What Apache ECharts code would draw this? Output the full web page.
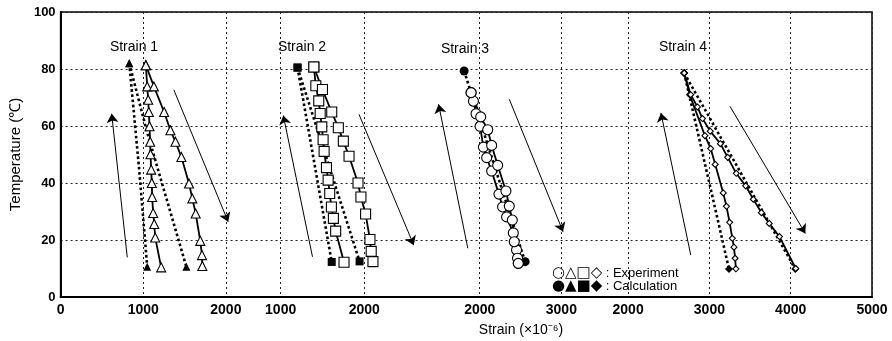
<!DOCTYPE html>
<html>
<head>
<meta charset="utf-8">
<title>Strain vs Temperature</title>
<script src="https://cdn.jsdelivr.net/npm/echarts@6.0.0/dist/echarts.min.js"></script>
<style>
    html, body {margin: 0; padding: 0; background: #fff;}
    #main {width: 892px; height: 341px;}
</style>
</head>
<body>
<div id="main"></div>
<script>
// tick labels, the x axis is shared by four shifted panels
var tempTicks = [0, 20, 40, 60, 80, 100];
var strain1Ticks = [0, 1000, 2000];
var strain2Ticks = [1000, 2000];
var strain3Ticks = [2000, 3000];
var strain4Ticks = [2000, 3000, 4000, 5000];

// [strain (x10^-6), temperature (C)]
var s1ExpA = [[1032, 81.3], [1048, 73.9], [1060, 69.2], [1068, 64.9], [1076, 59.9], [1084, 54.5], [1088, 50.1], [1096, 44.7], [1104, 40.0], [1108, 35.1], [1120, 29.5], [1133, 25.6], [1145, 20.9], [1217, 10.4]];
var s1ExpB = [[1032, 81.3], [1129, 73.9], [1253, 64.9], [1329, 58.5], [1390, 54.5], [1462, 49.1], [1554, 39.8], [1594, 34.6], [1635, 29.3], [1690, 19.7], [1711, 14.7], [1715, 10.9]];
var s1CalA = [[831, 82], [950, 45], [1048, 10.6]];
var s1CalB = [[831, 82], [1045, 58], [1522, 10.6]];

var s2ExpA = [[1397, 80.7], [1421, 74.1], [1456, 68.8], [1473, 64.4], [1492, 59.7], [1508, 55.2], [1520, 51.1], [1548, 45.4], [1568, 41.0], [1587, 36.3], [1607, 31.6], [1631, 27.6], [1658, 23.1], [1758, 12.2]];
var s2ExpB = [[1397, 80.7], [1500, 72.8], [1611, 64.9], [1690, 59.4], [1750, 54.7], [1818, 49.4], [1925, 40.0], [1960, 35.1], [2016, 29.1], [2068, 20.2], [2083, 16.0], [2104, 12.4]];
var s2CalA = [[1202, 80.5], [1611, 12.3]];
var s2CalB = [[1202, 80.5], [1944, 12.5]];

var s3ExpA = [[1894, 71.7], [1923, 68.7], [1955, 64.3], [2004, 59.9], [2045, 52.6], [2085, 48.9], [2146, 44.2], [2235, 36.1], [2280, 31.6], [2329, 28.1], [2411, 22.5], [2451, 16.5], [2472, 11.8]];
var s3ExpB = [[1894, 71.7], [2012, 63.2], [2098, 58.7], [2146, 53.2], [2220, 46.2], [2321, 37.2], [2362, 31.9], [2399, 27.0], [2423, 19.4], [2463, 13.6], [2472, 11.8]];
var s3Cal = [[1809, 79.3], [2556, 12.4]];

var s4ExpA = [[2690, 78.6], [2757, 71.0], [2945, 56.6], [3016, 52.1], [3072, 46.5], [3170, 36.5], [3210, 31.8], [3249, 26.2], [3282, 20.6], [3302, 17.5], [3316, 13.6], [3326, 9.9]];
var s4ExpB = [[2690, 78.6], [2770, 71.0], [2853, 66.7], [2915, 62.6], [3010, 58.2], [3135, 53.8], [3225, 49.0], [3330, 43.4], [3446, 39.0], [3540, 34.3], [3640, 29.6], [3736, 25.8], [3862, 21.2], [4062, 10.0]];
var s4CalA = [[2690, 78.6], [3241, 9.8]];
var s4CalB = [[2690, 78.6], [4057, 9.8]];

// heating / cooling arrows, [from, to]
var arrows1 = [[[807, 13.9], [618, 64.3]], [[1370, 72.7], [2028, 26.4]]];
var arrows2 = [[[1381, 14.1], [1032, 63.7]], [[1937, 64.1], [2592, 18.2]]];
var arrows3 = [[[1854, 17.1], [1496, 67.6]], [[2362, 69.4], [3021, 22.9]]];
var arrows4 = [[[2771, 14.7], [2404, 64.6]], [[3253, 66.9], [4180, 22.3]]];

var chart = echarts.init(document.getElementById('main'));
var font = 'Liberation Sans, Arial, sans-serif';

var gridLine = {show: true, lineStyle: {color: '#222', width: 1, type: [2, 3]}};

var xAxisOf = function (ticks, min, max, first) {
    return {
        type: 'value', min: min, max: max, position: 'bottom',
        axisLine: {show: first, onZero: false, lineStyle: {color: '#000', width: 2}},
        axisTick: {show: false, customValues: ticks},
        axisLabel: {
            customValues: ticks, color: '#000', fontFamily: font, fontWeight: 'bold', fontSize: 14, margin: 6,
            formatter: function (v) { return String(v); }
        },
        splitLine: gridLine
    };
};

var arrowLines = function (list) {
    return {
        silent: true, animation: false,
        symbol: ['none', 'arrow'], symbolSize: 9,
        label: {show: false},
        lineStyle: {color: '#000', width: 1, type: 'solid'},
        emphasis: {disabled: true},
        data: list.map(function (a) {
            return [{coord: a[0]}, {coord: a[1]}];
        })
    };
};

var expSeries = function (data, axis, symbol, size) {
    return {
        type: 'line', xAxisIndex: axis, data: data, z: 3,
        symbol: symbol, symbolSize: size, showAllSymbol: true,
        lineStyle: {color: '#000', width: 1.8},
        itemStyle: {color: '#fff', borderColor: '#000', borderWidth: 1.1},
        animation: false
    };
};

var calSeries = function (data, axis, symbol, size) {
    return {
        type: 'line', xAxisIndex: axis, z: 2,
        data: data.map(function (p, i) {
            if (i === 0 || i === data.length - 1) return p;
            return {value: p, symbol: 'none'};
        }),
        symbol: symbol, symbolSize: size, showAllSymbol: true,
        lineStyle: {color: '#000', width: 2.6, type: 'dotted'},
        itemStyle: {color: '#000'},
        animation: false
    };
};

var series = [
    calSeries(s1CalA, 0, 'triangle', 8),
    calSeries(s1CalB, 0, 'triangle', 8),
    expSeries(s1ExpA, 0, 'triangle', 9),
    expSeries(s1ExpB, 0, 'triangle', 9),
    calSeries(s2CalA, 1, 'rect', 8),
    calSeries(s2CalB, 1, 'rect', 8),
    expSeries(s2ExpA, 1, 'rect', 10),
    expSeries(s2ExpB, 1, 'rect', 10),
    calSeries(s3Cal, 2, 'circle', 9),
    expSeries(s3ExpA, 2, 'circle', 10),
    expSeries(s3ExpB, 2, 'circle', 10),
    calSeries(s4CalA, 3, 'diamond', 8),
    calSeries(s4CalB, 3, 'diamond', 8),
    expSeries(s4ExpA, 3, 'diamond', 6),
    expSeries(s4ExpB, 3, 'diamond', 6)
];
series[0].markLine = arrowLines(arrows1);
series[4].markLine = arrowLines(arrows2);
series[8].markLine = arrowLines(arrows3);
series[11].markLine = arrowLines(arrows4);

var label = function (text, x, y, size) {
    return {type: 'text', x: x, y: y, style: {text: text, font: size + 'px ' + font, fill: '#000', textAlign: 'center', textVerticalAlign: 'middle'}};
};

var legendRich = {
    s: {fontFamily: 'DejaVu Sans', fontSize: 15, fill: '#000'},
    t: {fontFamily: font, fontSize: 13, fill: '#000'}
};

var option = {
    backgroundColor: '#fff',
    animation: false,
    grid: {left: 57, right: 20, top: 12, bottom: 44, show: true, borderColor: '#000', borderWidth: 1.5},
    xAxis: [
        xAxisOf(strain1Ticks, 0, 9819, true),
        xAxisOf(strain2Ticks, -1631, 8071, false),
        xAxisOf(strain3Ticks, -3134, 6805, false),
        xAxisOf(strain4Ticks, -4980, 5000, false)
    ],
    yAxis: {
        type: 'value', min: tempTicks[0], max: tempTicks[tempTicks.length - 1], interval: 20,
        name: 'Temperature (℃)', nameLocation: 'middle', nameGap: 35,
        nameTextStyle: {color: '#000', fontFamily: font, fontSize: 15},
        axisLine: {show: true, lineStyle: {color: '#000', width: 2}},
        axisTick: {show: false},
        axisLabel: {color: '#000', fontFamily: font, fontWeight: 'bold', fontSize: 13, margin: 5},
        splitLine: gridLine
    },
    graphic: [
        label('Strain 1', 134, 47, 14),
        label('Strain 2', 302, 47, 14),
        label('Strain 3', 465, 49, 14),
        label('Strain 4', 683, 47, 14),
        label('Strain (×10⁻⁶)', 521, 330, 14),
        {type: 'text', x: 552, y: 273, style: {text: '{s|○△□◇} {t|: Experiment}', rich: legendRich, textVerticalAlign: 'middle'}},
        {type: 'text', x: 552, y: 286, style: {text: '{s|●▲■◆} {t|: Calculation}', rich: legendRich, textVerticalAlign: 'middle'}}
    ],
    series: series
};
chart.setOption(option);
</script>
</body>
</html>
